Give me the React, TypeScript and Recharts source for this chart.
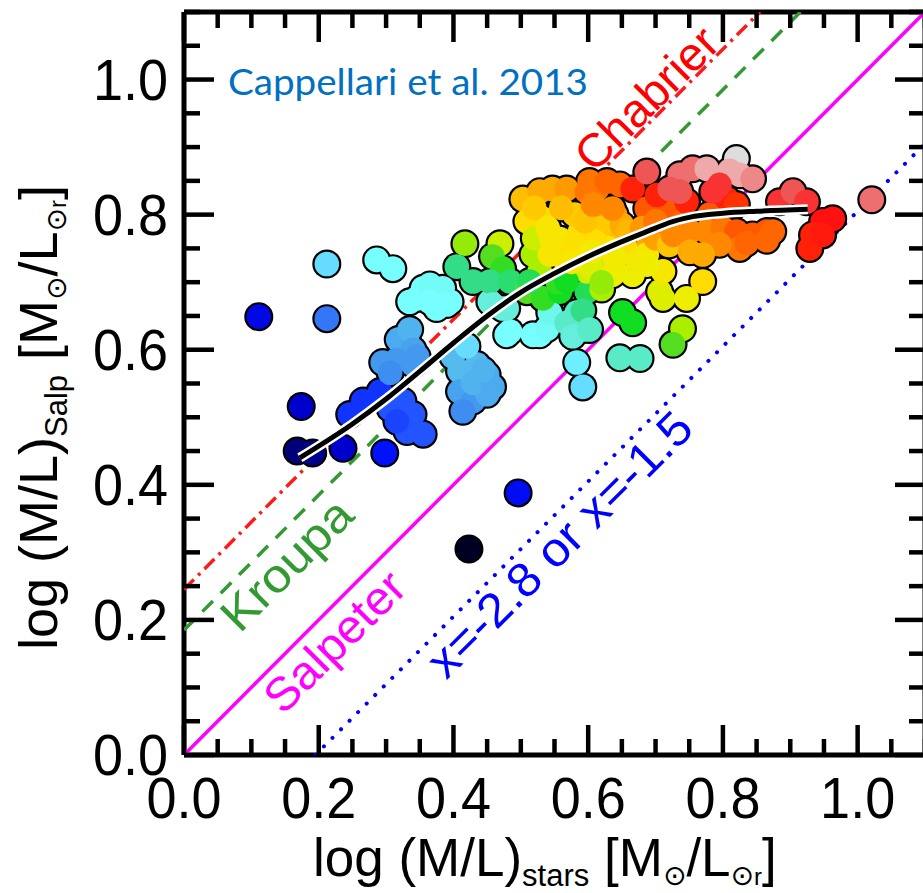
import React from 'react';
import { ScatterChart, Scatter, XAxis, YAxis } from 'recharts';

// ---------- axis ticks ----------
const X_TICKS = [0, 0.05, 0.1, 0.15, 0.2, 0.25, 0.3, 0.35, 0.4, 0.45, 0.5, 0.55, 0.6, 0.65, 0.7, 0.75, 0.8, 0.85, 0.9, 0.95, 1.0, 1.05, 1.1];
const Y_TICKS = [0, 0.05, 0.1, 0.15, 0.2, 0.25, 0.3, 0.35, 0.4, 0.45, 0.5, 0.55, 0.6, 0.65, 0.7, 0.75, 0.8, 0.85, 0.9, 0.95, 1.0, 1.05, 1.1];
const DOMAIN: [number, number] = [0, 1.1];

// ---------- galaxies: [log(M/L)stars, log(M/L)Salp, colour value 0..1] ----------
const GAL_ISOLATED = [
  [0.111, 0.649, 0.12], [0.174, 0.516, 0.10], [0.168, 0.450, 0.05], [0.191, 0.447, 0.06],
  [0.236, 0.454, 0.10], [0.298, 0.447, 0.14], [0.212, 0.646, 0.21], [0.212, 0.727, 0.32],
  [0.286, 0.733, 0.36], [0.310, 0.720, 0.36], [0.496, 0.388, 0.13], [0.423, 0.305, 0.0],
];
const GAL_BLUE = [
  [0.246, 0.504, 0.16], [0.266, 0.524, 0.16], [0.291, 0.538, 0.16], [0.306, 0.513, 0.18],
  [0.325, 0.524, 0.18], [0.340, 0.504, 0.18], [0.331, 0.479, 0.18], [0.355, 0.475, 0.18],
  [0.316, 0.494, 0.17],
  [0.318, 0.615, 0.26], [0.331, 0.617, 0.26], [0.335, 0.630, 0.27], [0.340, 0.600, 0.25],
  [0.346, 0.590, 0.24], [0.316, 0.585, 0.24], [0.295, 0.581, 0.24], [0.306, 0.566, 0.23],
  [0.340, 0.578, 0.24],
  [0.409, 0.568, 0.28], [0.435, 0.578, 0.28], [0.450, 0.563, 0.26], [0.409, 0.538, 0.25],
  [0.429, 0.524, 0.24], [0.450, 0.534, 0.26], [0.414, 0.509, 0.23], [0.399, 0.590, 0.28],
  [0.420, 0.605, 0.32], [0.429, 0.551, 0.27], [0.458, 0.545, 0.26], [0.444, 0.570, 0.27],
];
const GAL_CYAN = [
  [0.335, 0.671, 0.36], [0.355, 0.691, 0.36], [0.380, 0.682, 0.36], [0.395, 0.671, 0.36],
  [0.375, 0.661, 0.36], [0.346, 0.676, 0.36], [0.365, 0.696, 0.37], [0.384, 0.691, 0.37],
  [0.390, 0.667, 0.36], [0.365, 0.671, 0.36], [0.479, 0.622, 0.36], [0.454, 0.671, 0.40],
  [0.473, 0.661, 0.40], [0.528, 0.622, 0.36], [0.484, 0.627, 0.36],
];
const GAL_GREEN = [
  [0.417, 0.757, 0.55], [0.405, 0.723, 0.44], [0.469, 0.757, 0.58], [0.458, 0.738, 0.52],
  [0.473, 0.720, 0.50], [0.429, 0.701, 0.44], [0.454, 0.701, 0.44], [0.484, 0.701, 0.45],
  [0.458, 0.667, 0.40], [0.479, 0.661, 0.40], [0.518, 0.741, 0.56], [0.528, 0.716, 0.56],
  [0.509, 0.686, 0.52], [0.533, 0.676, 0.50], [0.558, 0.686, 0.48], [0.513, 0.701, 0.46],
  [0.555, 0.700, 0.50], [0.620, 0.690, 0.56],
];
const GAL_TEAL = [
  [0.518, 0.622, 0.36], [0.539, 0.631, 0.37], [0.543, 0.655, 0.38], [0.568, 0.640, 0.41],
  [0.583, 0.655, 0.41], [0.592, 0.630, 0.41], [0.577, 0.620, 0.40], [0.583, 0.581, 0.34],
  [0.592, 0.545, 0.32], [0.598, 0.686, 0.46], [0.592, 0.658, 0.44], [0.602, 0.630, 0.41],
  [0.651, 0.655, 0.48], [0.666, 0.640, 0.48], [0.647, 0.588, 0.41], [0.677, 0.587, 0.41],
];
const GAL_YELLOWGREEN = [
  [0.706, 0.686, 0.59], [0.711, 0.676, 0.59], [0.746, 0.676, 0.60], [0.770, 0.701, 0.64],
  [0.740, 0.631, 0.56], [0.726, 0.608, 0.52],
];
const GAL_YELLOW = [
  [0.503, 0.823, 0.665], [0.528, 0.834, 0.68], [0.547, 0.838, 0.68], [0.568, 0.838, 0.70],
  [0.509, 0.790, 0.64], [0.533, 0.794, 0.64], [0.598, 0.834, 0.74], [0.613, 0.838, 0.74],
  [0.520, 0.765, 0.58], [0.540, 0.780, 0.62], [0.558, 0.764, 0.62], [0.543, 0.741, 0.62],
  [0.568, 0.726, 0.62], [0.598, 0.741, 0.60], [0.588, 0.775, 0.64], [0.598, 0.716, 0.58],
  [0.613, 0.726, 0.58], [0.568, 0.701, 0.48], [0.580, 0.800, 0.655], [0.610, 0.810, 0.68],
  [0.640, 0.800, 0.70], [0.620, 0.780, 0.655], [0.650, 0.770, 0.665], [0.630, 0.750, 0.62],
  [0.660, 0.745, 0.64], [0.690, 0.760, 0.68], [0.610, 0.760, 0.64], [0.560, 0.810, 0.665],
  [0.520, 0.810, 0.655], [0.687, 0.741, 0.62], [0.711, 0.716, 0.62], [0.687, 0.726, 0.60],
  [0.666, 0.711, 0.60], [0.636, 0.711, 0.60], [0.605, 0.720, 0.59], [0.620, 0.700, 0.55],
  [0.575, 0.755, 0.63], [0.605, 0.745, 0.61], [0.640, 0.735, 0.61], [0.675, 0.730, 0.61],
  [0.545, 0.765, 0.62], [0.575, 0.730, 0.62], [0.595, 0.790, 0.66], [0.650, 0.785, 0.68],
  [0.660, 0.775, 0.67], [0.700, 0.765, 0.69], [0.720, 0.755, 0.66],
];
const GAL_ORANGE = [
  [0.602, 0.849, 0.74], [0.628, 0.849, 0.76], [0.647, 0.844, 0.76], [0.607, 0.815, 0.72],
  [0.636, 0.809, 0.72], [0.687, 0.809, 0.77], [0.717, 0.804, 0.77], [0.680, 0.780, 0.70],
  [0.700, 0.790, 0.74], [0.740, 0.790, 0.76], [0.780, 0.800, 0.77], [0.726, 0.770, 0.72],
  [0.751, 0.775, 0.72], [0.776, 0.775, 0.72], [0.800, 0.779, 0.74], [0.820, 0.775, 0.77],
  [0.844, 0.770, 0.77], [0.865, 0.775, 0.77], [0.825, 0.750, 0.74], [0.795, 0.756, 0.72],
  [0.770, 0.741, 0.68], [0.751, 0.745, 0.68], [0.835, 0.758, 0.76], [0.865, 0.762, 0.76],
  [0.874, 0.775, 0.76],
];
const GAL_RED = [
  [0.666, 0.838, 0.82], [0.702, 0.829, 0.82], [0.746, 0.819, 0.82], [0.806, 0.823, 0.82],
  [0.820, 0.815, 0.80], [0.687, 0.863, 0.88], [0.736, 0.859, 0.90], [0.755, 0.868, 0.90],
  [0.776, 0.868, 0.96], [0.820, 0.883, 1.00], [0.810, 0.865, 0.96], [0.825, 0.859, 0.96],
  [0.844, 0.853, 0.92], [0.795, 0.844, 0.86], [0.785, 0.834, 0.86], [0.736, 0.834, 0.88],
  [0.721, 0.838, 0.88], [0.884, 0.819, 0.86], [0.904, 0.834, 0.88], [0.924, 0.819, 0.86],
  [0.948, 0.790, 0.84], [0.963, 0.794, 0.84], [0.933, 0.770, 0.82], [0.929, 0.750, 0.82],
  [0.948, 0.770, 0.83], [1.021, 0.822, 0.90],
];

// ---------- LOESS-like trend ----------
const TREND_X = [0.172, 0.25, 0.30, 0.35, 0.40, 0.45, 0.50, 0.55, 0.60, 0.65, 0.70, 0.72, 0.75, 0.80, 0.85, 0.926];
const TREND_Y = [0.440, 0.490, 0.527, 0.568, 0.610, 0.650, 0.685, 0.713, 0.738, 0.760, 0.780, 0.788, 0.796, 0.802, 0.805, 0.808];

// ---------- IMF reference lines (offset from Salpeter) ----------
const LINE_SALPETER = [{ x: 0, y: 0 }, { x: 1.1, y: 1.1 }];
const LINE_KROUPA = [{ x: 0, y: 0.185 }, { x: 0.915, y: 1.1 }];
const LINE_CHABRIER = [{ x: 0, y: 0.245 }, { x: 0.855, y: 1.1 }];
const LINE_HEAVY = [{ x: 0.195, y: 0 }, { x: 1.1, y: 0.905 }];

// ---------- colour map ----------
const CMAP: [number, string][] = [
  [0.00, '#000022'], [0.05, '#000077'], [0.10, '#0000CC'], [0.14, '#0011FF'], [0.18, '#2255FF'],
  [0.24, '#4499EE'], [0.28, '#55BBEE'], [0.32, '#66DDFF'], [0.36, '#77FFFF'], [0.40, '#66EEDD'],
  [0.44, '#33DD88'], [0.48, '#11DD22'], [0.52, '#55DD22'], [0.56, '#AAEE00'], [0.60, '#EEEE00'],
  [0.64, '#FFDD00'], [0.68, '#FFAA00'], [0.72, '#FF8800'], [0.76, '#FF6600'], [0.80, '#FF3300'],
  [0.84, '#FF1111'], [0.88, '#EE5555'], [0.92, '#EE8888'], [0.96, '#EEAAAA'], [1.00, '#DDDDDD'],
];
const hex = (h: string) => [parseInt(h.slice(1, 3), 16), parseInt(h.slice(3, 5), 16), parseInt(h.slice(5, 7), 16)];
function colour(z: number): string {
  for (let i = 1; i < CMAP.length; i++) {
    if (z <= CMAP[i][0] + 1e-9) {
      const [z0, c0] = CMAP[i - 1];
      const [z1, c1] = CMAP[i];
      const t = (z - z0) / (z1 - z0);
      const a = hex(c0), b = hex(c1);
      const c = a.map((v, k) => Math.round(v + (b[k] - v) * t));
      return `rgb(${c[0]},${c[1]},${c[2]})`;
    }
  }
  return CMAP[CMAP.length - 1][1];
}

const GALAXIES = [
  ...GAL_ISOLATED, ...GAL_BLUE, ...GAL_CYAN, ...GAL_TEAL, ...GAL_GREEN,
  ...GAL_YELLOWGREEN, ...GAL_YELLOW, ...GAL_ORANGE, ...GAL_RED,
].map(([x, y, z]) => ({ x, y, z }));
const TREND = TREND_X.map((x, i) => ({ x, y: TREND_Y[i] }));

// ---------- styling ----------
const FONT = '"Liberation Sans", Arial, Helvetica, sans-serif';
const MAJ = 30;
const MIN = 16;
const TW = 4.5;
const STRETCH = 1.07;
const TICK_FS = 54;
const isMajor = (v: number) => Math.abs(v * 5 - Math.round(v * 5)) < 1e-6;

const BottomTick = (p: any) => {
  const { x, y, payload } = p;
  const M = isMajor(payload.value);
  return (
    <g>
      <line x1={x} x2={x} y1={y} y2={y - (M ? MAJ : MIN)} stroke="#000" strokeWidth={TW} />
      {M && (
        <text transform={`translate(${x},${y}) scale(1,${STRETCH})`} x={0} y={59} textAnchor="middle"
          fontSize={TICK_FS} fontFamily={FONT} fill="#000">{payload.value.toFixed(1)}</text>
      )}
    </g>
  );
};
const TopTick = (p: any) => {
  const { x, y, payload } = p;
  const M = isMajor(payload.value);
  return <line x1={x} x2={x} y1={y} y2={y + (M ? MAJ : MIN)} stroke="#000" strokeWidth={TW} />;
};
const LeftTick = (p: any) => {
  const { x, y, payload } = p;
  const M = isMajor(payload.value);
  return (
    <g>
      <line x1={x} x2={x + (M ? MAJ : MIN)} y1={y} y2={y} stroke="#000" strokeWidth={TW} />
      {M && (
        <text transform={`translate(${x - 16},${y}) scale(1,${STRETCH})`} x={0} y={19} textAnchor="end"
          fontSize={TICK_FS} fontFamily={FONT} fill="#000">{payload.value.toFixed(1)}</text>
      )}
    </g>
  );
};
const RightTick = (p: any) => {
  const { x, y, payload } = p;
  const M = isMajor(payload.value);
  return <line x1={x} x2={x - (M ? MAJ : MIN)} y1={y} y2={y} stroke="#000" strokeWidth={TW} />;
};

const NoShape = () => <g />;
const OutlineShape = (p: any) => <circle cx={p.cx} cy={p.cy} r={14.5} fill="#000" />;
const FillShape = (p: any) => <circle cx={p.cx} cy={p.cy} r={12.3} fill={colour(p.payload.z)} />;

const AXIS_LINE = { stroke: '#000', strokeWidth: 5 };
const SUN = "'DejaVu Sans', sans-serif";

export default function App() {
  return (
    <div style={{ position: 'absolute', left: 0, top: 0, width: 923, height: 893, overflow: 'hidden', background: '#fff' }}>
      <ScatterChart width={940} height={893} margin={{ top: 0, right: 0, bottom: 0, left: 0 }}>
        <XAxis xAxisId="b" orientation="bottom" type="number" dataKey="x" domain={DOMAIN} allowDataOverflow
          ticks={X_TICKS} interval={0} height={138} tickSize={0} tickMargin={0} tickLine={false}
          axisLine={AXIS_LINE} tick={BottomTick} />
        <XAxis xAxisId="t" orientation="top" type="number" dataKey="x" domain={DOMAIN} allowDataOverflow
          ticks={X_TICKS} interval={0} height={12} tickSize={0} tickMargin={0} tickLine={false}
          axisLine={AXIS_LINE} tick={TopTick} />
        <YAxis yAxisId="l" orientation="left" type="number" dataKey="y" domain={DOMAIN} allowDataOverflow
          ticks={Y_TICKS} interval={0} width={184} tickSize={0} tickMargin={0} tickLine={false}
          axisLine={AXIS_LINE} tick={LeftTick} />
        <YAxis yAxisId="r" orientation="right" type="number" dataKey="y" domain={DOMAIN} allowDataOverflow
          ticks={Y_TICKS} interval={0} width={15} tickSize={0} tickMargin={0} tickLine={false}
          axisLine={AXIS_LINE} tick={RightTick} />

        <Scatter xAxisId="b" yAxisId="l" data={LINE_SALPETER} shape={NoShape} isAnimationActive={false}
          line={{ stroke: '#FF00FF', strokeWidth: 3.5 }} />
        <Scatter xAxisId="b" yAxisId="l" data={LINE_KROUPA} shape={NoShape} isAnimationActive={false}
          line={{ stroke: '#339933', strokeWidth: 3.5, strokeDasharray: '15 11' }} />
        <Scatter xAxisId="b" yAxisId="l" data={LINE_CHABRIER} shape={NoShape} isAnimationActive={false}
          line={{ stroke: '#FF1A1A', strokeWidth: 3.5, strokeDasharray: '14 6 3 6' }} />
        <Scatter xAxisId="b" yAxisId="l" data={LINE_HEAVY} shape={NoShape} isAnimationActive={false}
          line={{ stroke: '#0000FF', strokeWidth: 4, strokeDasharray: '0.1 12', strokeLinecap: 'round' }} />

        <Scatter xAxisId="b" yAxisId="l" data={GALAXIES} shape={OutlineShape} isAnimationActive={false} />
        <Scatter xAxisId="t" yAxisId="r" data={GALAXIES} shape={FillShape} isAnimationActive={false} />

        <Scatter xAxisId="t" yAxisId="r" data={TREND} shape={NoShape} isAnimationActive={false}
          line={{ stroke: '#fff', strokeWidth: 10 }} lineJointType="monotoneX" />
        <Scatter xAxisId="t" yAxisId="r" data={TREND} shape={NoShape} isAnimationActive={false}
          line={{ stroke: '#000', strokeWidth: 5 }} lineJointType="monotoneX" />
      </ScatterChart>

      <svg width={923} height={893} style={{ position: 'absolute', left: 0, top: 0, pointerEvents: 'none' }}>
        <text x={228} y={95} fontSize={36} fontFamily="Lato, 'Open Sans', sans-serif" fill="#0070C0"
          textLength={360} lengthAdjust="spacingAndGlyphs">Cappellari et al. 2013</text>

        <text x={658} y={110} transform="rotate(-45 658 110)" textAnchor="middle" fontSize={47} fontFamily={FONT}
          fill="#FF0000" textLength={181} lengthAdjust="spacingAndGlyphs">Chabrier</text>
        <text x={298} y={576} transform="rotate(-45 298 576)" textAnchor="middle" fontSize={47} fontFamily={FONT}
          fill="#339933" textLength={165} lengthAdjust="spacingAndGlyphs">Kroupa</text>
        <text x={346} y={653} transform="rotate(-45 346 653)" textAnchor="middle" fontSize={47} fontFamily={FONT}
          fill="#FF00FF" textLength={178} lengthAdjust="spacingAndGlyphs">Salpeter</text>
        <text x={571} y={556} transform="rotate(-45 571 556)" textAnchor="middle" fontSize={48} fontFamily={FONT}
          fill="#0000FF" textLength={353} lengthAdjust="spacingAndGlyphs">x=-2.8 or x=-1.5</text>

        <text x={313} y={876} fontSize={53} fontFamily={FONT} fill="#000">
          log (M/L)<tspan fontSize={31} dy={10}>stars</tspan><tspan dy={-10}> [M</tspan>
          <tspan fontSize={28} dy={9} fontFamily={SUN}>⊙</tspan>
          <tspan dy={-9}>/L</tspan>
          <tspan fontSize={28} dy={9} fontFamily={SUN}>⊙</tspan>
          <tspan fontSize={24}>r</tspan><tspan dy={-9}>]</tspan>
        </text>
        <text transform="translate(57,650) rotate(-90)" x={0} y={0} fontSize={54} fontFamily={FONT} fill="#000">
          log (M/L)<tspan fontSize={31} dy={10}>Salp</tspan><tspan dy={-10}> [M</tspan>
          <tspan fontSize={28} dy={9} fontFamily={SUN}>⊙</tspan>
          <tspan dy={-9}>/L</tspan>
          <tspan fontSize={28} dy={9} fontFamily={SUN}>⊙</tspan>
          <tspan fontSize={24}>r</tspan><tspan dy={-9}>]</tspan>
        </text>
      </svg>
    </div>
  );
}
